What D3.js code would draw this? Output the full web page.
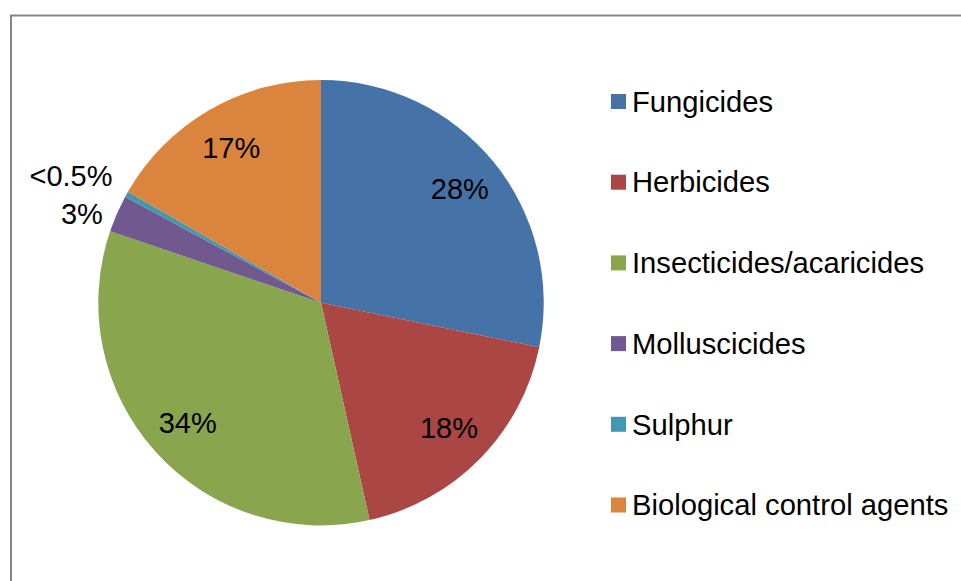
<!DOCTYPE html>
<html>
<head>
<meta charset="utf-8">
<script src="https://cdn.jsdelivr.net/npm/d3@7"></script>
<style>
  html, body { margin: 0; padding: 0; background: #fff; }
  svg { display: block; }
  text { font-family: "Liberation Sans", Arial, sans-serif; fill: #000; }
</style>
</head>
<body>
<svg id="chart" width="961" height="581"></svg>
<script>
// Share of products by type (percent)
const categories = ["Fungicides", "Herbicides", "Insecticides/acaricides", "Molluscicides", "Sulphur", "Biological control agents"];
const shares = [28.2, 18.3, 33.7, 2.7, 0.4, 16.7];
const colors = ["#4572A7", "#AA4643", "#89A54E", "#71588F", "#4198AF", "#DB843D"];

// Layout
const W = 961, H = 581;
const cx = 321, cy = 302.7, R = 222.7;
const insideLabelRadius = R * 0.805;
const smallSliceLimit = 5;      // slices under this share get their label outside
const outsideGap = 14;          // horizontal gap between rim and outside label
const outsideSpacing = 38;      // minimum vertical spacing between outside labels
const labelFont = 29, legendFont = 29.2;
const legendX = 611, legendY0 = 101.5, legendStep = 80.7, legendBox = 15;

const svg = d3.select("#chart");

// Frame
svg.append("path")
  .attr("d", `M11,${H} V15.5 H${W}`)
  .attr("fill", "none")
  .attr("stroke", "#868686")
  .attr("stroke-width", 2);

const pie = d3.pie().sort(null).value(d => d)(shares);
const arc = d3.arc().innerRadius(0).outerRadius(R);
const labelArc = d3.arc().innerRadius(insideLabelRadius).outerRadius(insideLabelRadius);
const rimArc = d3.arc().innerRadius(R).outerRadius(R);

const g = svg.append("g").attr("transform", `translate(${cx},${cy})`);

g.selectAll("path.slice")
  .data(pie)
  .join("path")
  .attr("class", "slice")
  .attr("d", arc)
  .attr("fill", (d, i) => colors[i]);

const fmt = v => v < 0.5 ? "<0.5%" : Math.round(v) + "%";

// Labels inside larger slices
pie.forEach((d, i) => {
  if (shares[i] < smallSliceLimit) return;
  const [x, y] = labelArc.centroid(d);
  g.append("text")
    .attr("x", x).attr("y", y)
    .attr("dy", "0.35em")
    .attr("text-anchor", "middle")
    .attr("font-size", labelFont)
    .text(fmt(shares[i]));
});

// Labels outside small slices, stacked upward when they would collide
let lastY = null;
pie.forEach((d, i) => {
  if (shares[i] >= smallSliceLimit) return;
  let [x, y] = rimArc.centroid(d);
  if (lastY !== null && lastY - y < outsideSpacing) y = lastY - outsideSpacing;
  lastY = y;
  g.append("text")
    .attr("x", x - outsideGap).attr("y", y)
    .attr("dy", "0.35em")
    .attr("text-anchor", "end")
    .attr("font-size", labelFont)
    .text(fmt(shares[i]));
});

// Legend
const legend = svg.append("g");
categories.forEach((c, i) => {
  const y = legendY0 + i * legendStep;
  legend.append("rect")
    .attr("x", legendX).attr("y", y - legendBox / 2)
    .attr("width", legendBox).attr("height", legendBox)
    .attr("fill", colors[i]);
  legend.append("text")
    .attr("x", legendX + legendBox + 6).attr("y", y)
    .attr("dy", "0.35em")
    .attr("font-size", legendFont)
    .text(c);
});
</script>
</body>
</html>
